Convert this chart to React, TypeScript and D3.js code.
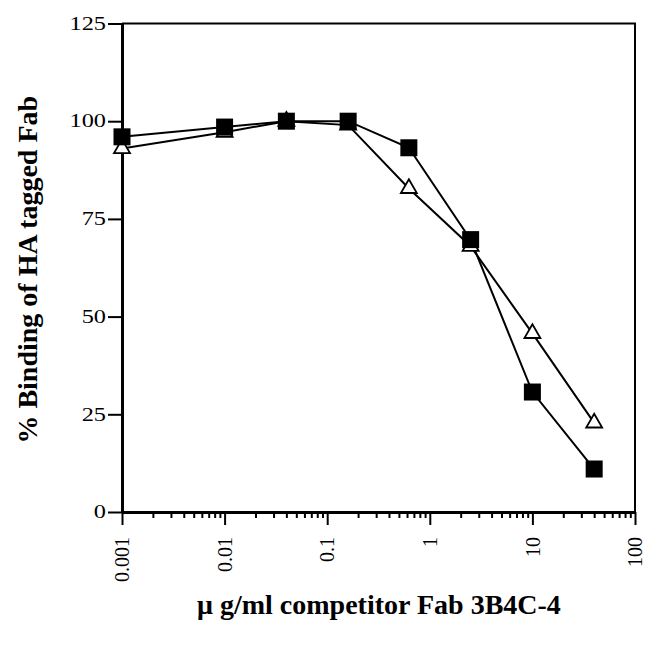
import React, { useEffect, useRef } from 'react';
import * as d3 from 'd3';

// competitor concentration, ug/ml
const concentrations = [0.001, 0.01, 0.04, 0.16, 0.625, 2.5, 10, 40];
const squareSeries = [96, 98.5, 100, 100, 93.2, 69.7, 30.7, 11];
const triangleSeries = [93, 97.2, 100, 99, 82.8, 68, 45.7, 22.8];
const yTicks = [0, 25, 50, 75, 100, 125];
const xTicks = [0.001, 0.01, 0.1, 1, 10, 100];

export default function App() {
    const ref = useRef<SVGSVGElement>(null);

    useEffect(() => {
        const svg = d3.select(ref.current);
        svg.selectAll('*').remove();

        const margin = { top: 23.5, left: 122, right: 12, bottom: 139 };
        const W = 647, H = 651;
        const width = W - margin.left - margin.right;
        const height = H - margin.top - margin.bottom;

        const g = svg.append('g')
            .attr('transform', 'translate(' + margin.left + ',' + margin.top + ')');

        const x = d3.scaleLog().domain([0.001, 100]).range([0, width]);
        const y = d3.scaleLinear().domain([0, 125]).range([height, 0]);

        const font = 'Liberation Serif, serif';

        // frame (top + right)
        g.append('path')
            .attr('d', 'M0,0H' + width + 'V' + height)
            .attr('fill', 'none')
            .attr('stroke', '#000')
            .attr('stroke-width', 2);

        // minor ticks on x
        const minor: number[] = [];
        for (let e = -3; e < 2; e++) {
            for (let m = 2; m <= 9; m++) minor.push(m * Math.pow(10, e));
        }
        const xMinor = g.append('g')
            .attr('transform', 'translate(0,' + height + ')')
            .call(d3.axisBottom(x).tickValues(minor).tickSize(6).tickFormat(() => ''));
        xMinor.select('.domain').remove();
        xMinor.selectAll('line').attr('stroke-width', 2);

        const xAxis = g.append('g')
            .attr('transform', 'translate(0,' + height + ')')
            .call(d3.axisBottom(x).tickValues(xTicks).tickSize(13).tickSizeOuter(0)
                .tickFormat((d: any) => String(d)));
        xAxis.attr('font-family', null);
        xAxis.select('.domain').attr('stroke-width', 3);
        xAxis.selectAll('line').attr('stroke-width', 2);
        xAxis.selectAll('text')
            .style('font-family', font)
            .style('font-size', '20px')
            .attr('transform', 'rotate(-90)')
            .attr('text-anchor', 'end')
            .attr('x', -25)
            .attr('y', 0)
            .attr('dy', '0.33em');

        const yAxis = g.append('g')
            .call(d3.axisLeft(y).tickValues(yTicks).tickSize(14).tickSizeOuter(0));
        yAxis.attr('font-family', null);
        yAxis.select('.domain').attr('stroke-width', 3);
        yAxis.selectAll('line').attr('stroke-width', 2);
        yAxis.selectAll('text')
            .style('font-family', font)
            .style('font-size', '18px')
            .attr('x', 0)
            .attr('transform', 'translate(-16,0) scale(1.35,1)');

        const line = d3.line<number>()
            .x((d, i) => x(concentrations[i]))
            .y((d) => y(d));

        g.append('path')
            .datum(triangleSeries)
            .attr('fill', 'none')
            .attr('stroke', '#000')
            .attr('stroke-width', 2)
            .attr('d', line);

        g.append('path')
            .datum(squareSeries)
            .attr('fill', 'none')
            .attr('stroke', '#000')
            .attr('stroke-width', 2)
            .attr('d', line);

        const tri = d3.symbol().type(d3.symbolTriangle).size(110);
        g.selectAll('.tri')
            .data(triangleSeries)
            .enter()
            .append('path')
            .attr('class', 'tri')
            .attr('d', tri)
            .attr('transform', (d, i) => 'translate(' + x(concentrations[i]) + ',' + y(d) + ')')
            .attr('fill', '#fff')
            .attr('stroke', '#000')
            .attr('stroke-width', 1.8);

        g.selectAll('.sq')
            .data(squareSeries)
            .enter()
            .append('rect')
            .attr('class', 'sq')
            .attr('x', (d, i) => x(concentrations[i]) - 8.5)
            .attr('y', (d) => y(d) - 8.5)
            .attr('width', 17)
            .attr('height', 17)
            .attr('fill', '#000');

        // axis labels
        svg.append('text')
            .attr('x', 379)
            .attr('y', 614)
            .attr('text-anchor', 'middle')
            .style('font-family', font)
            .style('font-weight', 'bold')
            .style('font-size', '28px')
            .text('μ g/ml competitor Fab 3B4C-4');

        svg.append('text')
            .attr('transform', 'translate(37,' + (margin.top + height / 2 + 2) + ') rotate(-90)')
            .attr('text-anchor', 'middle')
            .style('font-family', font)
            .style('font-weight', 'bold')
            .style('font-size', '28px')
            .text('% Binding of HA tagged Fab');
    }, []);

    return (
        <svg ref={ref} width={647} height={651} style={{ position: 'absolute', left: 0, top: 0 }}></svg>
    );
}
